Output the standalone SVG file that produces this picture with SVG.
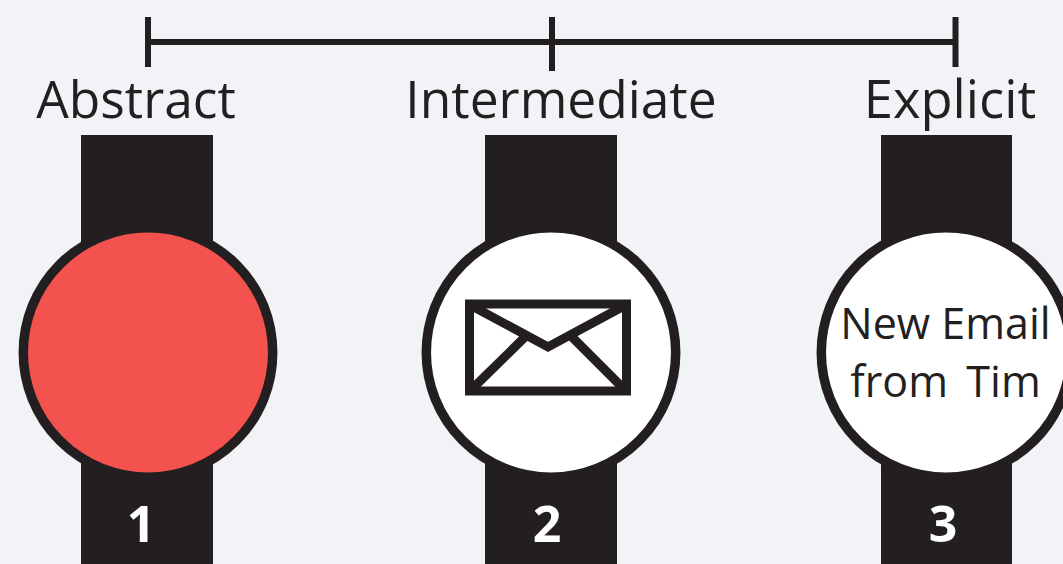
<svg xmlns="http://www.w3.org/2000/svg" width="1063" height="564" viewBox="0 0 1063 564">
<style>
.band{fill:#231f20}
.face{stroke:#231f20;stroke-width:9.5;fill:#fff}
.lbl{font-family:"Open Sans","Noto Sans",sans-serif;font-size:51.5px;fill:#231f20;text-anchor:middle}
.num{font-family:"Open Sans","Noto Sans",sans-serif;font-size:50px;font-weight:700;fill:#fff;text-anchor:middle}
.msg{font-family:"Open Sans","Noto Sans",sans-serif;font-size:43px;fill:#231f20;text-anchor:middle}
.ln{stroke:#231f20;stroke-width:6;fill:none}
.env{fill:none;stroke:#231f20;stroke-width:9}
</style>
<rect width="1063" height="564" fill="#f1f3f7"/>
<g id="connectors">
<path class="ln" d="M148 42H955M148 17V67M552 17V71M955.500 17V67"/>
</g>
<g id="watch1">
<text class="lbl" x="136" y="118">Abstract</text>
<rect class="band" x="81" y="135" width="132" height="429"/>
<circle class="face" cx="148" cy="352.500" r="124.700" style="fill:#f3524f"/>
<text class="num" x="141" y="542">1</text>
</g>
<g id="watch2">
<text class="lbl" x="561" y="118">Intermediate</text>
<rect class="band" x="485" y="135" width="132" height="429"/>
<circle class="face" cx="551" cy="352.500" r="124.700"/>
<rect class="env" x="469.500" y="304" width="157" height="87"/>
<path class="env" d="M472 306L548 347L624 306M472 389L527 335M624 389L570 335"/>
<text class="num" x="547" y="542">2</text>
</g>
<g id="watch3">
<text class="lbl" x="950" y="118" style="font-size:52.500px">Explicit</text>
<rect class="band" x="881" y="135" width="131" height="429"/>
<circle class="face" cx="946" cy="352.500" r="124.700"/>
<text class="msg" x="945.500" y="339">New Email</text>
<text class="msg" x="945.500" y="397" xml:space="preserve" style="word-spacing:-2px">from  Tim</text>
<text class="num" x="943" y="542">3</text>
</g>
</svg>
